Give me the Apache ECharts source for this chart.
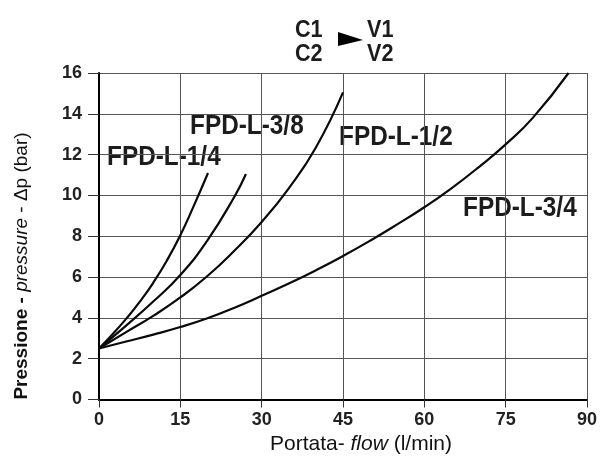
<!DOCTYPE html>
<html><head><meta charset="utf-8">
<script src="https://cdn.jsdelivr.net/npm/echarts@6/dist/echarts.min.js"></script>
<style>html,body{margin:0;padding:0;background:#fff}#c{width:600px;height:463px}</style>
</head><body><div id="c"></div>
<script>
// ---- data ----
const seriesNames = ['FPD-L-1/4', 'FPD-L-3/8', 'FPD-L-1/2', 'FPD-L-3/4'];
const flow14 = [0, 2.5, 5, 7.5, 10, 12.5, 15, 17.5, 20.1];
const dp14   = [2.5, 3.2, 3.95, 4.78, 5.72, 6.8, 8.05, 9.5, 11.1];
const flow38 = [0, 5, 10, 15, 20, 25, 27.1];
const dp38   = [2.5, 3.62, 4.8, 6.1, 7.8, 9.95, 11.05];
const flow12 = [0, 5, 10, 15, 20, 25, 30, 35, 40, 45];
const dp12   = [2.5, 3.3, 4.1, 5.0, 6.05, 7.3, 8.7, 10.35, 12.35, 15.05];
const flow34 = [0, 5, 10, 15, 20, 25, 30, 35, 40, 45, 50, 55, 60, 65, 70, 75, 80, 86.6];
const dp34   = [2.5, 2.84, 3.18, 3.55, 3.98, 4.5, 5.08, 5.68, 6.33, 7.03, 7.78, 8.58, 9.42, 10.35, 11.38, 12.5, 13.8, 16];
const xTicks = [0, 15, 30, 45, 60, 75, 90];
const yTicks = [0, 2, 4, 6, 8, 10, 12, 14, 16];
const titleTop = ['C1', 'V1'];
const titleBottom = ['C2', 'V2'];
const xTitle = ['Portata- ', 'flow', ' (l/min)'];
const yTitle = ['Pressione - ', 'pressure', ' - Δp (bar)'];

const FONT = "'Liberation Sans', Arial, sans-serif";
const pairs = (xs, ys) => xs.map((x, i) => [x, ys[i]]);
const allData = [pairs(flow14, dp14), pairs(flow38, dp38), pairs(flow12, dp12), pairs(flow34, dp34)];

const chart = echarts.init(document.getElementById('c'), null, {renderer: 'canvas'});

const labelPos = [[107, 157], [190, 126], [339, 137], [463, 208]];
const graphics = [];
seriesNames.forEach((n, i) => {
  graphics.push({type: 'text', x: labelPos[i][0], y: labelPos[i][1], scaleX: 0.87,
    style: {text: n, fontFamily: FONT, fontWeight: 'bold', fontSize: 28, fill: '#1c1c1c',
            align: 'left', verticalAlign: 'middle'}});
});
// title
const tStyle = {fontFamily: FONT, fontWeight: 'bold', fontSize: 24, fill: '#1c1c1c', align: 'left', verticalAlign: 'middle'};
graphics.push({type: 'text', x: 295, y: 30, scaleX: 0.9, style: Object.assign({text: titleTop[0]}, tStyle)});
graphics.push({type: 'text', x: 295, y: 54, scaleX: 0.9, style: Object.assign({text: titleBottom[0]}, tStyle)});
graphics.push({type: 'text', x: 367, y: 30, scaleX: 0.9, style: Object.assign({text: titleTop[1]}, tStyle)});
graphics.push({type: 'text', x: 367, y: 54, scaleX: 0.9, style: Object.assign({text: titleBottom[1]}, tStyle)});
graphics.push({type: 'polygon', shape: {points: [[338, 32], [338, 46], [363, 40]]}, style: {fill: '#000'}});
// axis titles
graphics.push({type: 'text', x: 361, y: 444,
  style: {text: '{n|' + xTitle[0] + '}{i|' + xTitle[1] + '}{n|' + xTitle[2] + '}',
    align: 'center', verticalAlign: 'middle',
    rich: {n: {fontFamily: FONT, fontSize: 21, fill: '#111'},
           i: {fontFamily: FONT, fontSize: 21, fontStyle: 'italic', fill: '#111'}}}});
graphics.push({type: 'text', x: 22, y: 266, rotation: Math.PI / 2,
  style: {text: '{b|' + yTitle[0] + '}{i|' + yTitle[1] + '}{n|' + yTitle[2] + '}',
    align: 'center', verticalAlign: 'middle',
    rich: {b: {fontFamily: FONT, fontSize: 19, fontWeight: 'bold', fill: '#111'},
           i: {fontFamily: FONT, fontSize: 19, fontStyle: 'italic', fill: '#111'},
           n: {fontFamily: FONT, fontSize: 19, fill: '#111'}}}});

chart.setOption({
  animation: false,
  backgroundColor: '#fff',
  grid: {left: 99, right: 9, top: 73, bottom: 63.5, containLabel: false},
  xAxis: {
    type: 'value', min: xTicks[0], max: xTicks[xTicks.length - 1], interval: xTicks[1] - xTicks[0],
    axisLine: {show: true, onZero: true, lineStyle: {color: '#000', width: 2}},
    axisTick: {show: true, length: 8, lineStyle: {color: '#333', width: 1}},
    axisLabel: {margin: 12, fontFamily: FONT, fontWeight: 'bold', fontSize: 18, color: '#222'},
    splitLine: {show: true, lineStyle: {color: '#555', width: 1}}
  },
  yAxis: {
    type: 'value', min: yTicks[0], max: yTicks[yTicks.length - 1], interval: yTicks[1] - yTicks[0],
    axisLine: {show: true, lineStyle: {color: '#000', width: 2}},
    axisTick: {show: true, length: 11, lineStyle: {color: '#333', width: 1}},
    axisLabel: {margin: 17, fontFamily: FONT, fontWeight: 'bold', fontSize: 18, color: '#222'},
    splitLine: {show: true, lineStyle: {color: '#555', width: 1}}
  },
  graphic: graphics,
  series: seriesNames.map((n, i) => ({
    name: n, type: 'line', data: allData[i], smooth: 0.5,
    showSymbol: false, symbol: 'none', silent: true,
    lineStyle: {color: '#0a0a0a', width: 2.2}
  }))
});
</script>
</body></html>
